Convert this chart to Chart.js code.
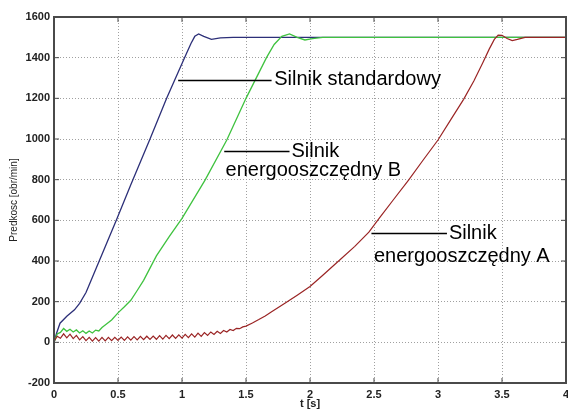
<!DOCTYPE html>
<html>
<head>
<meta charset="utf-8">
<script src="https://cdn.jsdelivr.net/npm/chart.js@4.4.1/dist/chart.umd.min.js"></script>
<style>
    html, body { margin: 0; padding: 0; background: #fff; }
    #wrap { width: 568px; height: 412px; }
</style>
</head>
<body>
<div id="wrap"><canvas id="speed-chart"></canvas></div>
<script>
// Wartosci (t [s], predkosc [obr/min])
const xTicks = [0, 0.5, 1, 1.5, 2, 2.5, 3, 3.5, 4];
const yTicks = [-200, 0, 200, 400, 600, 800, 1000, 1200, 1400, 1600];

// Silnik standardowy
const tStd = [0, 0.02, 0.047, 0.1, 0.16, 0.2, 0.25, 0.3, 0.4, 0.49, 0.6, 0.75, 0.88, 1.02, 1.07, 1.1, 1.13, 1.17, 1.23, 1.3, 1.4, 4.0];
const vStd = [0, 45, 94, 128, 160, 192, 245, 320, 470, 605, 775, 1000, 1200, 1400, 1470, 1505, 1517, 1505, 1490, 1497, 1500, 1500];

// Silnik energooszczedny B
const tB = [0, 0.025, 0.05, 0.075, 0.1, 0.125, 0.15, 0.175, 0.2, 0.225, 0.25, 0.275, 0.3, 0.325, 0.35, 0.375,
    0.4, 0.45, 0.5, 0.55, 0.6, 0.65, 0.7, 0.75, 0.8, 0.9, 1.0, 1.18, 1.35, 1.5, 1.66, 1.72, 1.78, 1.84, 1.9, 1.96, 2.02, 2.1, 4.0];
const vB = [0, 41, 49, 68, 54, 64, 51, 61, 46, 57, 44, 56, 46, 60, 56, 73,
    85, 110, 145, 175, 207, 255, 305, 365, 425, 520, 610, 798, 995, 1200, 1400, 1465, 1505, 1517, 1500, 1487, 1494, 1500, 1500];

// Silnik energooszczedny A
const tA = [0, 0.025, 0.05, 0.075, 0.1, 0.125, 0.15, 0.175, 0.2, 0.225, 0.25, 0.275, 0.3, 0.325, 0.35, 0.375,
    0.4, 0.425, 0.45, 0.475, 0.5, 0.525, 0.55, 0.575, 0.6, 0.625, 0.65, 0.675, 0.7, 0.725, 0.75, 0.775,
    0.8, 0.825, 0.85, 0.875, 0.9, 0.925, 0.95, 0.975, 1.0, 1.025, 1.05, 1.075, 1.1, 1.125, 1.15, 1.175,
    1.2, 1.225, 1.25, 1.275, 1.3, 1.325, 1.35, 1.375, 1.4, 1.425, 1.45, 1.475, 1.5,
    1.55, 1.6, 1.65, 1.7, 1.81, 1.9, 2.0, 2.1, 2.23, 2.35, 2.46, 2.54, 2.65, 2.77, 2.88, 3.0, 3.1, 3.2,
    3.28, 3.35, 3.4, 3.44, 3.47, 3.5, 3.54, 3.58, 3.62, 3.68, 4.0];
const vA = [5, 30, 20, 42, 22, 40, 18, 34, 12, 28, 8, 24, 6, 23, 6, 24,
    7, 24, 8, 25, 9, 26, 10, 27, 11, 28, 12, 29, 13, 30, 14, 31,
    15, 33, 16, 34, 18, 36, 19, 37, 21, 39, 23, 42, 26, 45, 29, 48,
    34, 51, 39, 54, 44, 58, 51, 63, 58, 69, 67, 76, 80,
    95, 112, 130, 150, 195, 232, 275, 330, 404, 472, 542, 610, 700, 798, 893, 995, 1095, 1195,
    1285, 1375, 1442, 1490, 1511, 1510, 1494, 1484, 1490, 1500, 1500];

// Opisy krzywych (wspolrzedne w jednostkach danych)
const notes = [
    { line: [0.97, 1.70, 1292], lines: [['Silnik standardowy', 1.72, 1292]] },
    { line: [1.33, 1.84, 941], lines: [['Silnik', 1.855, 941], ['energooszczędny B', 1.34, 845]] },
    { line: [2.48, 3.07, 537], lines: [['Silnik', 3.085, 537], ['energooszczędny A', 2.50, 420]] }
];

function toPoints(ts, vs) {
    return ts.map((t, i) => ({ x: t, y: vs[i] }));
}

// Ramka wykresu i znaczniki skierowane do srodka (styl MATLAB)
const framePlugin = {
    id: 'frame',
    afterDraw(chart) {
        const { ctx, chartArea: a, scales: { x, y } } = chart;
        ctx.save();
        ctx.strokeStyle = '#4a4a4a';
        ctx.lineWidth = 1;
        const len = 5;
        ctx.beginPath();
        xTicks.forEach(v => {
            const px = x.getPixelForValue(v);
            ctx.moveTo(px, a.bottom); ctx.lineTo(px, a.bottom - len);
            ctx.moveTo(px, a.top); ctx.lineTo(px, a.top + len);
        });
        yTicks.forEach(v => {
            const py = y.getPixelForValue(v);
            ctx.moveTo(a.left, py); ctx.lineTo(a.left + len, py);
            ctx.moveTo(a.right, py); ctx.lineTo(a.right - len, py);
        });
        ctx.stroke();
        ctx.lineWidth = 2;
        ctx.strokeRect(a.left, a.top, a.right - a.left, a.bottom - a.top);
        ctx.restore();
    }
};

const notesPlugin = {
    id: 'notes',
    afterDatasetsDraw(chart) {
        const { ctx, scales: { x, y } } = chart;
        ctx.save();
        ctx.strokeStyle = '#000';
        ctx.lineWidth = 1.5;
        ctx.fillStyle = '#000';
        ctx.font = '20px "Liberation Sans", Arial, sans-serif';
        ctx.textBaseline = 'middle';
        notes.forEach(n => {
            const py = Math.round(y.getPixelForValue(n.line[2])) + 0.5;
            ctx.beginPath();
            ctx.moveTo(x.getPixelForValue(n.line[0]), py);
            ctx.lineTo(x.getPixelForValue(n.line[1]), py);
            ctx.stroke();
            n.lines.forEach(([text, t, v]) => {
                ctx.fillText(text, x.getPixelForValue(t), y.getPixelForValue(v));
            });
        });
        ctx.restore();
    }
};

const tickFont = { family: '"Liberation Sans", Arial, sans-serif', size: 11, weight: 'bold' };

new Chart(document.getElementById('speed-chart'), {
    type: 'line',
    data: {
        datasets: [
            { data: toPoints(tA, vA), borderColor: '#9a2424', borderWidth: 1.2 },
            { data: toPoints(tB, vB), borderColor: '#3fc23f', borderWidth: 1.3 },
            { data: toPoints(tStd, vStd), borderColor: '#2c2f78', borderWidth: 1.3 }
        ]
    },
    options: {
        responsive: true,
        maintainAspectRatio: false,
        animation: false,
        elements: { point: { radius: 0 }, line: { tension: 0 } },
        layout: { padding: { top: 17, right: 2, left: 0, bottom: 0 } },
        plugins: { legend: { display: false }, tooltip: { enabled: false } },
        scales: {
            x: {
                type: 'linear', min: 0, max: 4,
                afterBuildTicks: s => { s.ticks = xTicks.map(v => ({ value: v })); },
                afterFit: s => { s.height = 29; s.paddingLeft = 0; s.paddingRight = 0; },
                grid: { color: '#a0a0a0', lineWidth: 1, drawTicks: false },
                border: { display: false, dash: [1, 2] },
                ticks: { padding: 5, color: '#222', font: tickFont, maxRotation: 0, callback: v => String(v) },
                title: { display: true, text: 't [s]', color: '#222', font: tickFont, padding: { top: 0, bottom: 1 } }
            },
            y: {
                min: -200, max: 1600,
                afterBuildTicks: s => { s.ticks = yTicks.map(v => ({ value: v })); },
                afterFit: s => { s.width = 54; s.paddingTop = 0; s.paddingBottom = 0; },
                grid: { color: '#a0a0a0', lineWidth: 1, drawTicks: false },
                border: { display: false, dash: [1, 2] },
                ticks: { padding: 4, color: '#222', font: tickFont, callback: v => String(v) },
                title: { display: true, text: 'Predkosc [obr/min]', color: '#222',
                    font: { family: '"Liberation Sans", Arial, sans-serif', size: 10 }, padding: { top: 8, bottom: 0 } }
            }
        }
    },
    plugins: [framePlugin, notesPlugin]
});
</script>
</body>
</html>
